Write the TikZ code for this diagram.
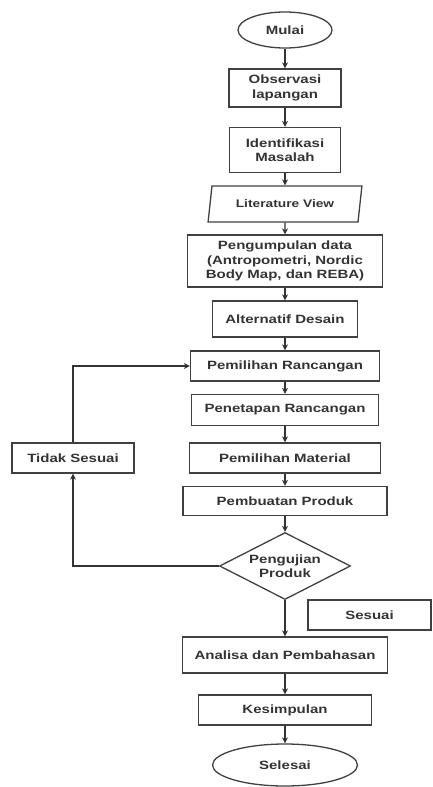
\documentclass[tikz,border=0pt]{standalone}
\usepackage{fontspec}
\setmainfont{Liberation Sans}[FakeStretch=1.25]
\usetikzlibrary{shapes.geometric,arrows.meta}
\begin{document}
\begin{tikzpicture}[x=1pt, y=-1pt,
  every node/.style={draw=black!75, line width=1.3pt, inner sep=0pt, align=center, text=black!80, font=\bfseries\fontsize{12}{14.3}\selectfont},
  proses/.style={rectangle},
  terminal/.style={ellipse},
  masukan/.style={trapezium, trapezium left angle=72, trapezium right angle=108, trapezium stretches=true},
  keputusan/.style={diamond, aspect=2},
  panah/.style={draw=black!80, line width=1.2pt, -{Stealth[length=6pt, width=6pt]}}]
\useasboundingbox (0,0) rectangle (432,787);
\node[terminal, minimum width=94, minimum height=36] (mulai) at (285,30) {Mulai};
\node[proses, minimum width=112, minimum height=38] (observasi) at (285,88) {Observasi\\lapangan};
\node[proses, minimum width=111, minimum height=45] (identifikasi) at (285,150) {Identifikasi\\Masalah};
\node[masukan, minimum width=154, minimum height=36, font=\bfseries\fontsize{11}{13}\selectfont] (literatur) at (285,204) {Literature View};
\node[proses, minimum width=195, minimum height=52] (data) at (285,261) {Pengumpulan data\\(Antropometri, Nordic\\Body Map, dan REBA)};
\node[proses, minimum width=145, minimum height=36] (alternatif) at (285,319) {Alternatif Desain};
\node[proses, minimum width=189, minimum height=30] (pemilihan) at (285,366) {Pemilihan Rancangan};
\node[proses, minimum width=187, minimum height=31] (penetapan) at (285,410) {Penetapan Rancangan};
\node[proses, minimum width=191, minimum height=30] (material) at (285,458) {Pemilihan Material};
\node[proses, minimum width=204, minimum height=29] (pembuatan) at (285,501) {Pembuatan Produk};
\node[keputusan, minimum width=131, minimum height=67] (pengujian) at (285,566) {Pengujian\\Produk};
\node[proses, minimum width=123, minimum height=30] (sesuai) at (369.5,615) {Sesuai};
\node[proses, minimum width=205, minimum height=36] (analisa) at (285,655) {Analisa dan Pembahasan};
\node[proses, minimum width=173, minimum height=30] (kesimpulan) at (285,710) {Kesimpulan};
\node[terminal, minimum width=145, minimum height=42] (selesai) at (285,765) {Selesai};
\node[proses, minimum width=122, minimum height=30] (tidak) at (73,458) {Tidak Sesuai};
\draw[panah] (mulai) -- (observasi);
\draw[panah] (observasi) -- (identifikasi);
\draw[panah] (identifikasi) -- (literatur);
\draw[panah] (literatur) -- (data);
\draw[panah] (data) -- (alternatif);
\draw[panah] (alternatif) -- (pemilihan);
\draw[panah] (pemilihan) -- (penetapan);
\draw[panah] (penetapan) -- (material);
\draw[panah] (material) -- (pembuatan);
\draw[panah] (pembuatan) -- (pengujian);
\draw[panah] (pengujian) -- (analisa);
\draw[panah] (analisa) -- (kesimpulan);
\draw[panah] (kesimpulan) -- (selesai);
\draw[panah] (pengujian.west) -| (tidak.south);
\draw[panah] (tidak.north) |- (pemilihan.west);
\end{tikzpicture}
\end{document}
